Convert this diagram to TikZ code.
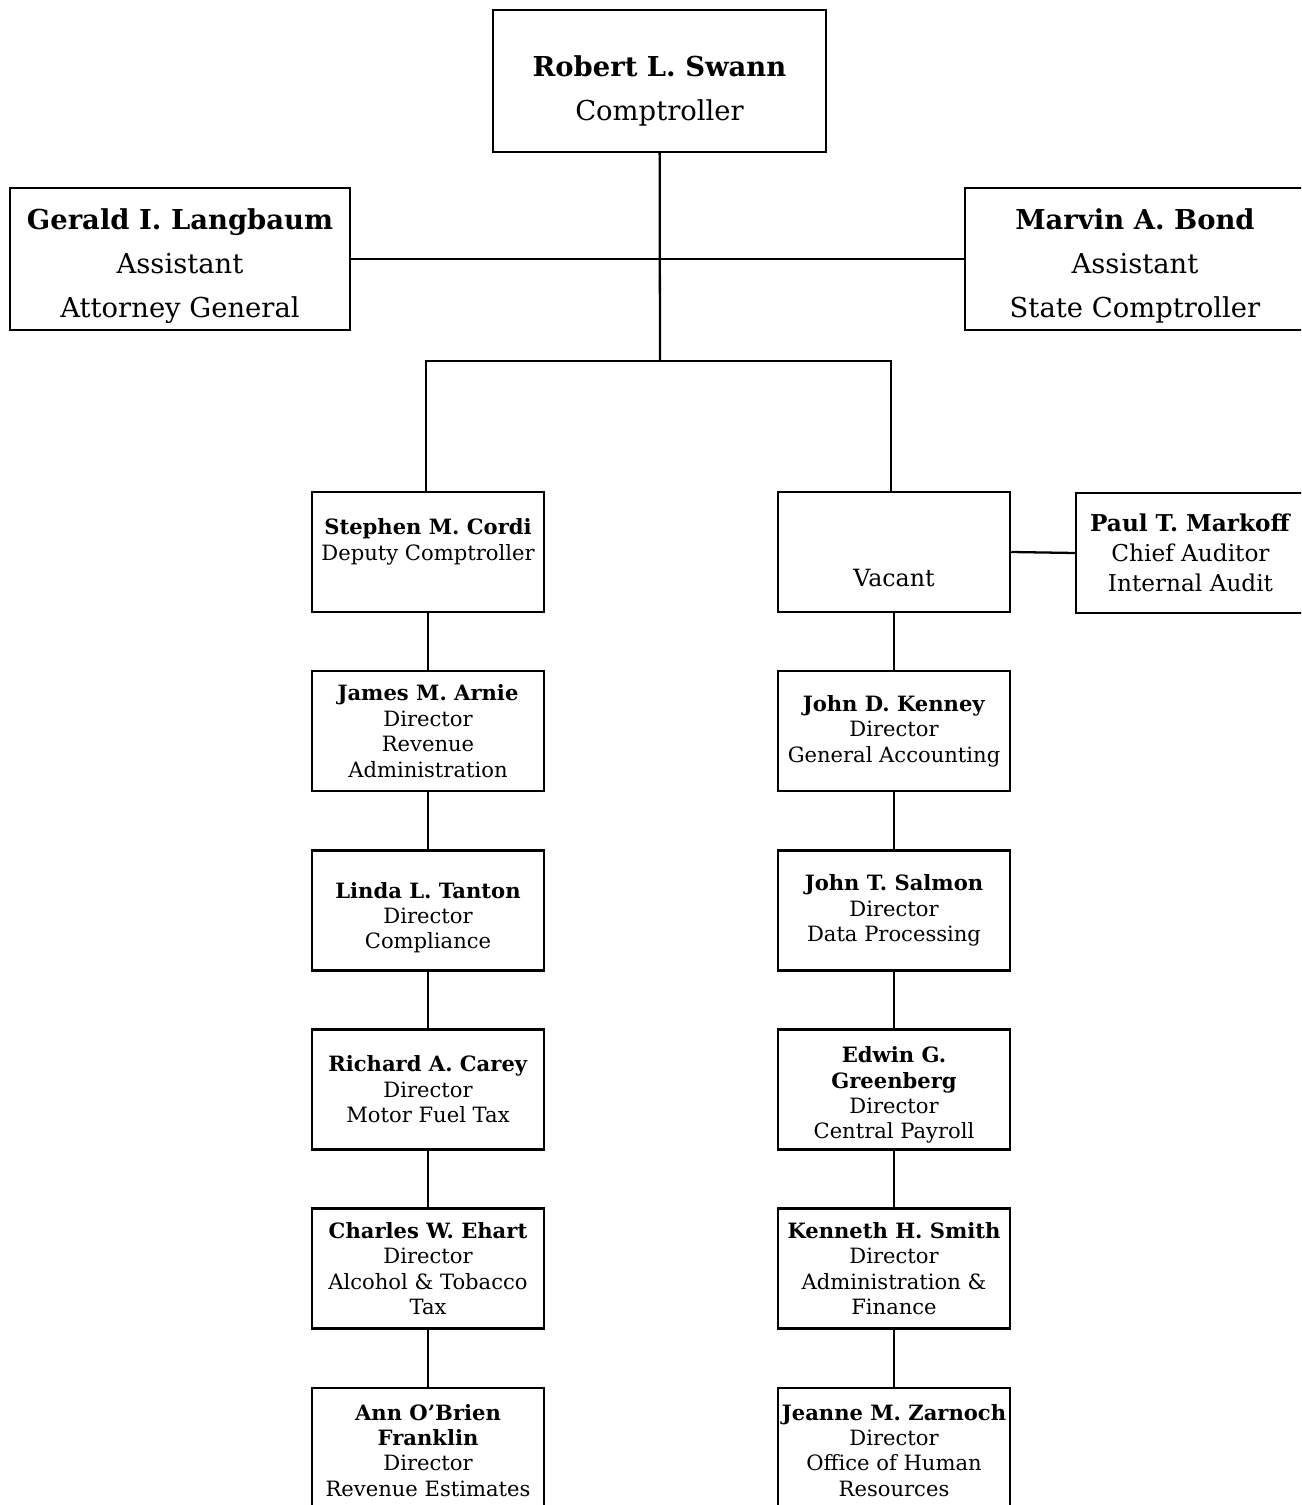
\documentclass[tikz,border=0pt]{standalone}
\usepackage{fontspec}
\setmainfont{DejaVu Serif}
\usetikzlibrary{positioning}
\newcommand{\pushdown}[1]{\rule{0pt}{#1}}

\begin{document}
\begin{tikzpicture}[x=0.2mm,y=-0.2mm,line width=1.3pt,node distance=1.134cm,
  bigbox/.style={draw,line width=1.4pt,align=center,minimum height=2.84cm,inner sep=1pt,font=\fontsize{15.6}{25}\selectfont},
  smallbox/.style={draw,line width=1.4pt,align=center,minimum width=4.64cm,minimum height=2.4cm,inner sep=1pt,font=\fontsize{12}{14.5}\selectfont}]
  \useasboundingbox (0,0) rectangle (1301,1505);
  \clip (0,0) rectangle (1301,1505);
  % top level
  \node[bigbox,minimum width=6.66cm] (swann) at (659.5,81) {\pushdown{23pt}\textbf{Robert L. Swann}\\Comptroller};
  \node[bigbox,minimum width=6.8cm] (langbaum) at (180,259) {\pushdown{19.5pt}\textbf{Gerald I. Langbaum}\\Assistant\\Attorney General};
  \node[bigbox,minimum width=6.8cm] (bond) at (1135,259) {\pushdown{20pt}\textbf{Marvin A. Bond}\\Assistant\\State Comptroller};
  \coordinate (hub) at (660,361);
  % deputies
  \node[smallbox] (cordi) at (428,552) {\textbf{Stephen M. Cordi}\\Deputy Comptroller\\~};
  \node[smallbox,font=\fontsize{13.5}{14.5}\selectfont] (vacant) at (894,552) {~\\~\\[10pt]Vacant};
  \node[smallbox,minimum width=4.58cm,font=\fontsize{13.2}{17}\selectfont] (markoff) at (1190.5,553) {\textbf{Paul T. Markoff}\\Chief Auditor\\Internal Audit};
  % left column
  \node[smallbox,below=of cordi] (arnie) {\textbf{James M. Arnie}\\Director\\Revenue\\Administration};
  \node[smallbox,below=of arnie] (tanton) {\pushdown{17.5pt}\textbf{Linda L. Tanton}\\Director\\Compliance};
  \node[smallbox,below=of tanton] (carey) {\textbf{Richard A. Carey}\\Director\\Motor Fuel Tax};
  \node[smallbox,below=of carey] (ehart) {\textbf{Charles W. Ehart}\\Director\\Alcohol \& Tobacco\\Tax};
  \node[smallbox,below=of ehart] (franklin) {\pushdown{12pt}\textbf{Ann O’Brien}\\\textbf{Franklin}\\Director\\Revenue Estimates};
  % right column
  \node[smallbox,below=of vacant] (kenney) {\textbf{John D. Kenney}\\Director\\General Accounting};
  \node[smallbox,below=of kenney] (salmon) {\textbf{John T. Salmon}\\Director\\Data Processing};
  \node[smallbox,below=of salmon] (greenberg) {\pushdown{15.5pt}\textbf{Edwin G.}\\\textbf{Greenberg}\\Director\\Central Payroll};
  \node[smallbox,below=of greenberg] (smith) {\textbf{Kenneth H. Smith}\\Director\\Administration \&\\Finance};
  \node[smallbox,below=of smith] (zarnoch) {\pushdown{12pt}\textbf{Jeanne M. Zarnoch}\\Director\\Office of Human\\Resources};
  % connectors
  \draw (swann) -- (hub);
  \draw (langbaum.east) -- (bond.west);
  \draw ([xshift=-0.4mm]cordi.north) -- ([xshift=-0.4mm]cordi.north |- hub) -| ([xshift=-0.6mm]vacant.north);
  \draw (vacant.east) -- (markoff.west);
  \foreach \a/\b in {cordi/arnie,arnie/tanton,tanton/carey,carey/ehart,ehart/franklin,
                     vacant/kenney,kenney/salmon,salmon/greenberg,greenberg/smith,smith/zarnoch}
    \draw (\a) -- (\b);
\end{tikzpicture}
\end{document}
